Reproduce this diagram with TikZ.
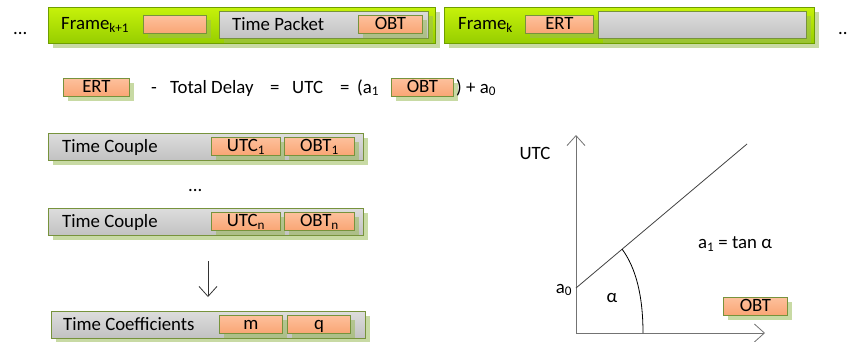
\documentclass[tikz,border=0pt]{standalone}
\usepackage{fontspec}
\setmainfont{Carlito}
\usetikzlibrary{arrows.meta}
\definecolor{limetop}{HTML}{C6F20A}
\definecolor{limebot}{HTML}{96CE00}
\definecolor{limeline}{HTML}{6E9E00}
\definecolor{greytop}{HTML}{DDDDDD}
\definecolor{greybot}{HTML}{C2C2C2}
\definecolor{olive}{HTML}{77933C}
\definecolor{peachtop}{HTML}{FDC09C}
\definecolor{peachbot}{HTML}{F9A574}
\definecolor{shade}{HTML}{9BBB59}
\tikzset{
  x=1pt, y=-1pt,
  every node/.style={font=\fontsize{18.8}{22}\selectfont, inner sep=0pt},
  boxshadow/.style={fill=shade, fill opacity=0.55, draw=none},
  framebox/.style={draw=limeline, line width=0.9pt, top color=limetop, bottom color=limebot,
    anchor=north west, minimum height=36pt},
  greybox/.style={draw=olive, line width=0.9pt, top color=greytop, bottom color=greybot,
    anchor=north west, minimum height=27pt},
  peachbox/.style={draw=olive, line width=0.9pt, top color=peachtop, bottom color=peachbot,
    anchor=north west, minimum height=18pt, text height=12.5pt, text depth=1.5pt, inner sep=2pt},
  lbl/.style={anchor=base west},
  barb/.style={-{Straight Barb[length=10pt,width=18pt]}, line width=0.8pt},
}
% shadowed box: name, style, x, y, width, shadow offset, height
\newcommand{\shadowed}[7]{%
  \fill[boxshadow] ({#3+#6},{#4+#6}) rectangle ++(#5,#7);
  \node[#2, minimum width=#5 pt] (#1) at (#3,#4) {};
}
% small label box: name, (unused), x, y, width, text
\newcommand{\peach}[6]{%
  \fill[boxshadow] ({#3+5},{#4+5}) rectangle ++(#5,18);
  \node[peachbox, minimum width=#5 pt] (#1) at (#3,#4) {#6};
}
\begin{document}
\begin{tikzpicture}
\useasboundingbox (0,0) rectangle (847,341);
\clip (0,0) rectangle (847,341);

% ---- frame stream ----
\node[lbl] (dotsL) at (13,34) {...};
\shadowed{framekp}{framebox}{48}{7}{387}{5}{36}
\node[lbl] (tkp) at (61,29) {Frame\textsubscript{k+1}};
\peach{datakp}{}{143}{15}{63}{}
\shadowed{tpacket}{greybox}{219}{11}{209}{5}{27}
\node[lbl] (tptxt) at (232,30) {Time Packet};
\peach{obtp}{}{358}{15}{64}{OBT}

\shadowed{framek}{framebox}{444}{7}{370}{5}{36}
\node[lbl] (tk) at (458,29) {Frame\textsubscript{k}};
\peach{ertk}{}{525}{15}{68}{ERT}
\shadowed{datak}{greybox}{598}{11}{208}{5}{27}
\node[lbl] (dotsR) at (838,34) {...};

% ---- correlation formula ----
\peach{ert}{}{63}{78}{66}{ERT}
\node[lbl] (minus) at (151,93) {-};
\node[lbl] (delay) at (170,93) {Total Delay};
\node[lbl] (eq1) at (270,93) {=};
\node[lbl] (utc) at (292,93) {UTC};
\node[lbl] (eq2) at (340,93) {=};
\node[lbl] (a1) at (357,93) {(a\textsubscript{1}};
\peach{obt}{}{391}{78}{62}{OBT}
\node[lbl] (a0) at (456,93) {) + a\textsubscript{0}};

% ---- time couples ----
\shadowed{tc1}{greybox}{48}{133}{315}{5}{27}
\node[lbl] (tc1txt) at (62,152) {Time Couple};
\peach{utc1}{}{211}{137}{69}{UTC\textsubscript{1}}
\peach{obt1}{}{284}{137}{70}{OBT\textsubscript{1}}

\node[lbl] (dotsM) at (188,191) {...};

\shadowed{tcn}{greybox}{48}{208}{315}{5}{27}
\node[lbl] (tcntxt) at (62,227) {Time Couple};
\peach{utcn}{}{211}{212}{69}{UTC\textsubscript{n}}
\peach{obtn}{}{284}{212}{70}{OBT\textsubscript{n}}

\coordinate (arrS) at (208,261);
\coordinate (arrE) at (208,297);
\draw[barb, draw=black!80] (arrS) -- (arrE);

\shadowed{coef}{greybox}{51}{311}{314}{5}{27}
\node[lbl] (coeftxt) at (63,330) {Time Coefficients};
\peach{m}{}{219}{315}{63}{m}
\peach{q}{}{287}{315}{63}{q}

% ---- linear fit graph ----
\coordinate (orig) at (576,333);
\coordinate (ytop) at (576,135);
\coordinate (xend) at (765,333);
\coordinate (icpt) at (576,288);
\coordinate (lend) at (747,144);
\draw[barb, draw=black!55] (orig) -- (ytop);
\draw[barb, draw=black!55] (orig) -- (xend);
\draw[draw=black!75, line width=0.8pt] (icpt) -- (lend);
\coordinate (arcA) at (622,249);
\coordinate (arcB) at (643,333);
\draw[line width=0.8pt] (arcA) .. controls (636,268) and (643,296) .. (arcB);
\node[anchor=center] (utclbl) at (535,153) {UTC};
\node[anchor=center] (slope) at (735,244) {a\textsubscript{1} = tan α};
\node[anchor=center] (a0lbl) at (564,290) {a\textsubscript{0}};
\node[anchor=center] (alpha) at (612,298) {α};
\peach{obtx}{}{723}{297}{64}{OBT}
\end{tikzpicture}
\end{document}
